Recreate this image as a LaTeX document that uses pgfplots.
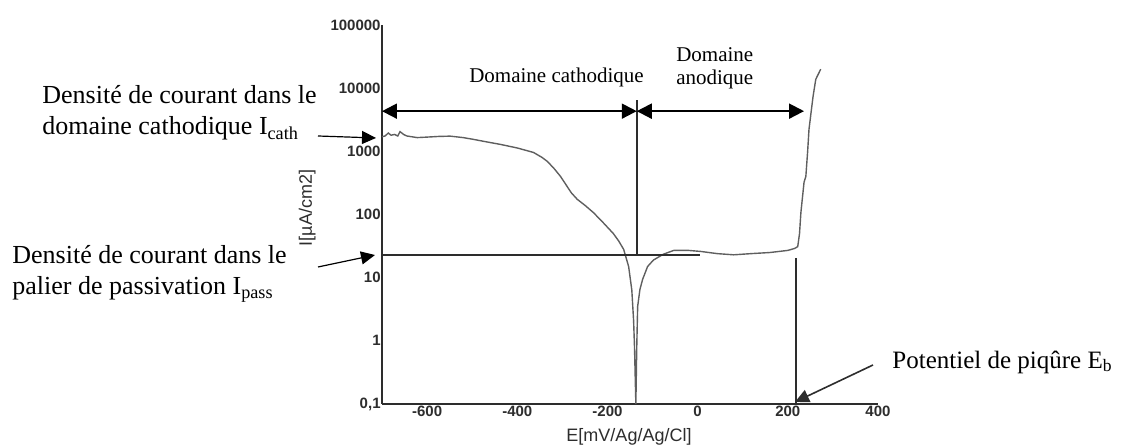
\documentclass[border=0pt]{standalone}
\usepackage{fontspec}
\setmainfont{Liberation Serif}
\newfontfamily\arial{Liberation Sans}
\usepackage{pgfplots}
\pgfplotsset{compat=1.18}
\usetikzlibrary{arrows.meta}

\definecolor{curvegray}{RGB}{95,95,95}
\definecolor{axisgray}{RGB}{45,45,45}

\begin{document}
\begin{tikzpicture}
\begin{axis}[
  at={(0,0)}, anchor=south west,
  scale only axis, width=248pt, height=189.5pt,
  xmin=-700, xmax=400,
  ymode=log, ymin=0.1, ymax=100000,
  axis x line=bottom, axis y line=left,
  axis line style={-, line width=1pt, axisgray},
  xtick={-600,-400,-200,0,200,400},
  xticklabels={-600,-400,-200,0,200,400},
  ytick={0.1,1,10,100,1000,10000,100000},
  yticklabels={{0,1},1,10,100,1000,10000,100000},
  yminorticks=false,
  major tick length=0pt, minor tick length=0pt,
  ticklabel style={font=\arial\bfseries\fontsize{7.5}{8}\selectfont, text=axisgray},
  xticklabel style={inner sep=1pt},
  yticklabel style={inner sep=0.5pt},
  xlabel={E[mV/Ag/Ag/Cl]}, ylabel={I[µA/cm2]},
  label style={font=\arial\fontsize{9}{10}\selectfont, text=axisgray},
  xlabel style={at={(axis description cs:0.498,-0.087)}, anchor=center},
  ylabel style={at={(axis description cs:-0.151,0.517)}, anchor=center},
  clip=false,
]
% polarisation curve
\addplot[curvegray, line width=0.7pt] coordinates {
  (-700,1700) (-693,1750) (-686,1950) (-680,1800) (-672,1850) (-665,1750)
  (-660,2050) (-652,1850) (-645,1750) (-622,1650) (-600,1680) (-575,1720)
  (-549,1740) (-520,1650) (-498,1550) (-470,1420) (-438,1290) (-400,1130)
  (-364,960) (-345,800) (-333,690) (-318,530) (-304,400) (-289,275)
  (-280,220) (-267,174) (-250,140) (-231,107) (-210,75) (-187,50)
  (-175,38) (-164,28) (-153,15) (-146,6.4) (-142,2.1) (-140,0.8) (-137,0.1)
  (-135,0.8) (-133,3.5) (-128,6.5) (-122,9.4) (-111,15) (-98,19) (-76,23.5)
  (-53,27) (-20,27) (7,26) (44,24) (80,23) (118,24) (160,25) (200,27)
  (215,29) (222,31) (226,50) (229,107) (236,324) (240,400) (244,1000)
  (247,2240) (256,7400) (262,13800) (273,20000)
};
% passivation level and markers
\addplot[axisgray, line width=1pt] coordinates {(-700,22.8) (5,22.8)};
\addplot[axisgray, line width=1pt] coordinates {(-135,6460) (-135,22.8)};
\addplot[axisgray, line width=1pt] coordinates {(218,20.5) (218,0.1)};
% domain arrows
\draw[{Triangle[length=7.5pt,width=7.5pt]}-{Triangle[length=7.5pt,width=7.5pt]}, line width=1pt]
  (axis cs:-700,4325) -- (axis cs:-135,4325);
\draw[{Triangle[length=7.5pt,width=7.5pt]}-{Triangle[length=7.5pt,width=7.5pt]}, line width=1pt]
  (axis cs:-135,4325) -- (axis cs:236,4325);
\node[font=\fontsize{10.5}{12}\selectfont] at (axis cs:-313,14800) {Domaine cathodique};
\node[font=\fontsize{10.5}{11.5}\selectfont, align=center] at (axis cs:38,21000) {Domaine\\anodique};
\end{axis}

% annotations
\node[anchor=west, align=left, inner sep=0pt, font=\fontsize{13}{15.5}\selectfont] at (-170pt,145.5pt)
  {Densité de courant dans le\\domaine cathodique I\textsubscript{cath}};
\node[anchor=west, align=left, inner sep=0pt, font=\fontsize{13}{15.5}\selectfont] at (-185pt,65pt)
  {Densité de courant dans le\\palier de passivation I\textsubscript{pass}};
\node[anchor=west, inner sep=0pt, font=\fontsize{12.5}{15}\selectfont] at (255pt,21pt)
  {Potentiel de piqûre E\textsubscript{b}};
\draw[-{Triangle[length=7pt,width=6.5pt]}, line width=0.6pt] (-32pt,134pt) -- (-3pt,133pt);
\draw[-{Triangle[length=7pt,width=6.5pt]}, line width=0.6pt] (-32pt,68.5pt) -- (-3.5pt,74.5pt);
\draw[-{Triangle[length=7pt,width=6.5pt]}, line width=0.8pt, axisgray] (245.5pt,19.5pt) -- (206.5pt,1pt);

\pgfresetboundingbox
\path[use as bounding box] (-191pt,-22pt) rectangle (371pt,202pt);
\end{tikzpicture}
\end{document}
